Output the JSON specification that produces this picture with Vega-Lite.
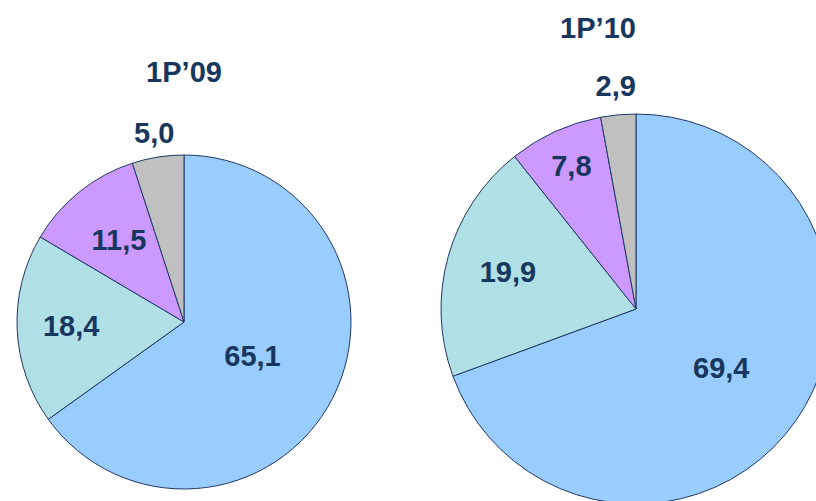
{
  "$schema": "https://vega.github.io/schema/vega-lite/v6.json",
  "width": 816,
  "height": 501,
  "padding": 0,
  "autosize": {"type": "none"},
  "background": "white",
  "config": {
    "view": {"stroke": null},
    "locale": {"number": {"decimal": ",", "thousands": " ", "grouping": [3], "currency": ["", ""]}},
    "text": {"font": "Liberation Sans", "fontWeight": "bold", "fontSize": 29, "color": "#17375E"}
  },
  "datasets": {
    "slices": [
      {"period": "1P’09", "segment": "Segment 1", "order": 1, "value": 65.1},
      {"period": "1P’09", "segment": "Segment 2", "order": 2, "value": 18.4},
      {"period": "1P’09", "segment": "Segment 3", "order": 3, "value": 11.5},
      {"period": "1P’09", "segment": "Segment 4", "order": 4, "value": 5.0},
      {"period": "1P’10", "segment": "Segment 1", "order": 1, "value": 69.4},
      {"period": "1P’10", "segment": "Segment 2", "order": 2, "value": 19.9},
      {"period": "1P’10", "segment": "Segment 3", "order": 3, "value": 7.8},
      {"period": "1P’10", "segment": "Segment 4", "order": 4, "value": 2.9}
    ],
    "periods": [{"period": "1P’09"}, {"period": "1P’10"}]
  },
  "data": {"name": "slices"},
  "encoding": {
    "x": {"field": "period", "type": "nominal", "axis": null,
          "scale": {"type": "point", "domain": ["1P’09", "1P’10"], "range": [184, 636], "padding": 0}},
    "y": {"field": "period", "type": "nominal", "axis": null,
          "scale": {"type": "point", "domain": ["1P’09", "1P’10"], "range": [322, 309], "padding": 0}}
  },
  "layer": [
    {
      "transform": [{"filter": {"field": "period", "equal": "1P’09"}}],
      "mark": {"type": "arc", "outerRadius": 167, "stroke": "#1F3864", "strokeWidth": 1},
      "encoding": {
        "theta": {"field": "value", "type": "quantitative", "stack": true, "scale": {"domain": [0, 100]}},
        "order": {"field": "order", "type": "quantitative"},
        "color": {"field": "segment", "type": "nominal", "legend": null,
                  "scale": {"domain": ["Segment 1", "Segment 2", "Segment 3", "Segment 4"], "range": ["#99CCFF", "#B0DFE5", "#CC99FF", "#C0C0C0"]}}
      }
    },
    {
      "transform": [{"filter": {"field": "period", "equal": "1P’10"}}],
      "mark": {"type": "arc", "outerRadius": 195, "stroke": "#1F3864", "strokeWidth": 1},
      "encoding": {
        "theta": {"field": "value", "type": "quantitative", "stack": true, "scale": {"domain": [0, 100]}},
        "order": {"field": "order", "type": "quantitative"},
        "color": {"field": "segment", "type": "nominal", "legend": null}
      }
    },
    {
      "transform": [{"filter": {"field": "period", "equal": "1P’09"}}],
      "mark": {"type": "text", "radius": 77},
      "encoding": {
        "theta": {"field": "value", "type": "quantitative", "stack": true},
        "order": {"field": "order", "type": "quantitative"},
        "text": {"condition": {"test": "datum.order == 1", "field": "value", "type": "quantitative", "format": ".1f"}, "value": ""}
      }
    },
    {
      "transform": [{"filter": {"field": "period", "equal": "1P’09"}}],
      "mark": {"type": "text", "radius": 113},
      "encoding": {
        "theta": {"field": "value", "type": "quantitative", "stack": true},
        "order": {"field": "order", "type": "quantitative"},
        "text": {"condition": {"test": "datum.order == 2", "field": "value", "type": "quantitative", "format": ".1f"}, "value": ""}
      }
    },
    {
      "transform": [{"filter": {"field": "period", "equal": "1P’09"}}],
      "mark": {"type": "text", "radius": 104},
      "encoding": {
        "theta": {"field": "value", "type": "quantitative", "stack": true},
        "order": {"field": "order", "type": "quantitative"},
        "text": {"condition": {"test": "datum.order == 3", "field": "value", "type": "quantitative", "format": ".1f"}, "value": ""}
      }
    },
    {
      "transform": [{"filter": {"field": "period", "equal": "1P’09"}}],
      "mark": {"type": "text", "radius": 190},
      "encoding": {
        "theta": {"field": "value", "type": "quantitative", "stack": true},
        "order": {"field": "order", "type": "quantitative"},
        "text": {"condition": {"test": "datum.order == 4", "field": "value", "type": "quantitative", "format": ".1f"}, "value": ""}
      }
    },
    {
      "transform": [{"filter": {"field": "period", "equal": "1P’10"}}],
      "mark": {"type": "text", "radius": 104},
      "encoding": {
        "theta": {"field": "value", "type": "quantitative", "stack": true},
        "order": {"field": "order", "type": "quantitative"},
        "text": {"condition": {"test": "datum.order == 1", "field": "value", "type": "quantitative", "format": ".1f"}, "value": ""}
      }
    },
    {
      "transform": [{"filter": {"field": "period", "equal": "1P’10"}}],
      "mark": {"type": "text", "radius": 133},
      "encoding": {
        "theta": {"field": "value", "type": "quantitative", "stack": true},
        "order": {"field": "order", "type": "quantitative"},
        "text": {"condition": {"test": "datum.order == 2", "field": "value", "type": "quantitative", "format": ".1f"}, "value": ""}
      }
    },
    {
      "transform": [{"filter": {"field": "period", "equal": "1P’10"}}],
      "mark": {"type": "text", "radius": 156},
      "encoding": {
        "theta": {"field": "value", "type": "quantitative", "stack": true},
        "order": {"field": "order", "type": "quantitative"},
        "text": {"condition": {"test": "datum.order == 3", "field": "value", "type": "quantitative", "format": ".1f"}, "value": ""}
      }
    },
    {
      "transform": [{"filter": {"field": "period", "equal": "1P’10"}}],
      "mark": {"type": "text", "radius": 223},
      "encoding": {
        "theta": {"field": "value", "type": "quantitative", "stack": true},
        "order": {"field": "order", "type": "quantitative"},
        "text": {"condition": {"test": "datum.order == 4", "field": "value", "type": "quantitative", "format": ".1f"}, "value": ""}
      }
    },
    {
      "data": {"name": "periods"},
      "transform": [{"filter": {"field": "period", "equal": "1P’09"}}],
      "mark": {"type": "text", "dy": -249},
      "encoding": {"text": {"field": "period", "type": "nominal"}}
    },
    {
      "data": {"name": "periods"},
      "transform": [{"filter": {"field": "period", "equal": "1P’10"}}],
      "mark": {"type": "text", "dx": -38, "dy": -280},
      "encoding": {"text": {"field": "period", "type": "nominal"}}
    }
  ]
}
